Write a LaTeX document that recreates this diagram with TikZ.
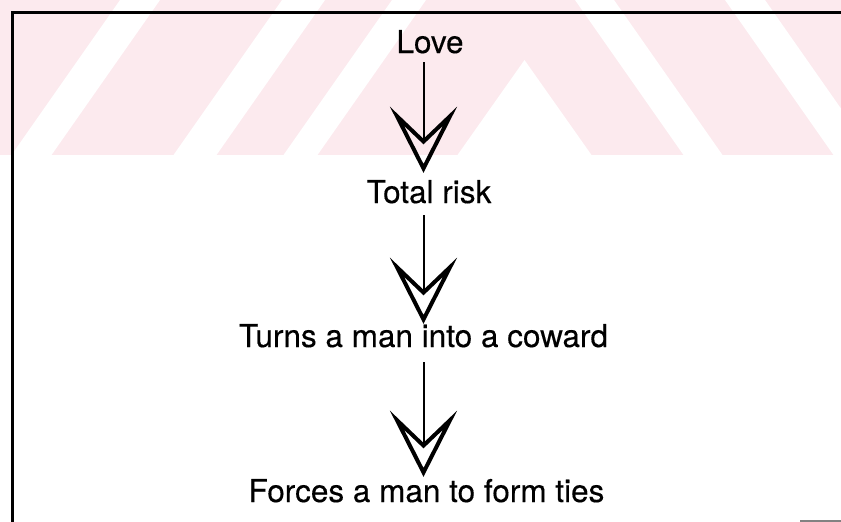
\documentclass[tikz,border=0pt]{standalone}
\usepackage{fontspec}
\setmainfont{TeX Gyre Heros}
\newfontfamily\lblfont[FakeBold=0.3]{TeX Gyre Heros}
\usetikzlibrary{arrows.meta}
\definecolor{wm}{RGB}{252,234,238}
\definecolor{framegray}{RGB}{130,130,130}
\begin{document}
\begin{tikzpicture}[x=1pt,y=-1pt,
  lbl/.style={inner sep=0pt, anchor=base, font=\lblfont\fontsize{31.5}{36}\selectfont, text height=23pt, text depth=0pt},
  conn/.style={line width=2pt, -{Stealth[open, length=66pt, width=67pt, inset=32pt, line width=4pt]}},
  frameline/.style={line width=3pt},
]
\useasboundingbox (0,0) rectangle (841,522);
\clip (0,0) rectangle (841,522);
% faint watermark band
\begin{scope}
  \clip (0,0) rectangle (841,155);
  \fill[wm] (0,0) rectangle (841,155);
  \foreach \a/\b in {120/160, 282/325, 392/426} {
    \fill[white] (\a,0) -- (\b,0) -- (\b-108.5,155) -- (\a-108.5,155) -- cycle;
  }
  \fill[white] (524.5,60) -- (591.5,155) -- (457.5,155) -- cycle;
  \foreach \a/\b in {575/614, 725/765} {
    \fill[white] (\a,0) -- (\b,0) -- (\b+108.5,155) -- (\a+108.5,155) -- cycle;
  }
\end{scope}
% frame
\draw[frameline] (12,524) -- (12,12) -- (845,12);
\draw[framegray, line width=2pt] (800,521) -- (845,521);
% labels
\coordinate (ax) at (423.5,0);
\node[lbl] (love) at (430,53) {Love};
\node[lbl] (risk) at (429,203) {Total risk};
\node[lbl] (coward) at (423.5,347) {Turns a man into a coward};
\node[lbl] (ties) at (426.5,502) {Forces a man to form ties};
% connectors
\draw[conn, shorten <=9pt, shorten >=7pt] (love.south -| ax) -- (risk.north -| ax);
\draw[conn, shorten <=12pt, shorten >=0pt] (risk.south -| ax) -- (coward.north -| ax);
\draw[conn, shorten <=15pt, shorten >=2pt] (coward.south -| ax) -- (ties.north -| ax);
\end{tikzpicture}
\end{document}
